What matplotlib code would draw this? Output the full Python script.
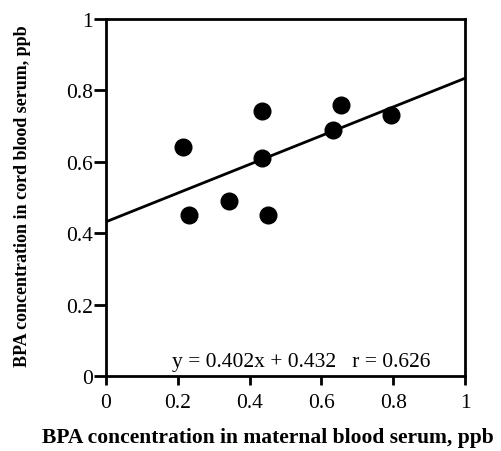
import numpy as np
import matplotlib
matplotlib.use("Agg")
import matplotlib.pyplot as plt

plt.rcParams['font.family'] = ['Liberation Serif', 'DejaVu Serif']

# maternal vs cord serum BPA, ppb
maternal = [0.215, 0.434, 0.655, 0.793, 0.633, 0.434, 0.231, 0.343, 0.452]
cord = [0.641, 0.741, 0.760, 0.731, 0.690, 0.611, 0.451, 0.489, 0.451]
slope = 0.402
intercept = 0.432
r_value = 0.626
ticks = [0, 0.2, 0.4, 0.6, 0.8, 1]
tick_labels = ['0', '0.2', '0.4', '0.6', '0.8', '1']

fig = plt.figure(figsize=(5.01, 4.52), dpi=100)
ax = fig.add_axes([106 / 501, 1 - 377 / 452, 359 / 501, 357 / 452])

xs = np.array([0, 1])
ax.plot(xs, slope * xs + intercept, color='black', lw=2)
ax.plot(maternal, cord, 'o', color='black', markersize=12, clip_on=False)

ax.set_xlim(0, 1)
ax.set_ylim(0, 1)
ax.set_xticks(ticks)
ax.set_xticklabels(tick_labels)
ax.set_yticks(ticks)
ax.set_yticklabels(tick_labels)
for s in ax.spines.values():
    s.set_linewidth(2)
ax.tick_params(axis='x', direction='out', length=6.5, width=2, labelsize=15.5, pad=6)
ax.tick_params(axis='y', direction='out', length=8.5, width=2, labelsize=15.5, pad=1)

ax.text(0.184, 0.015, 'y = %.3fx + %.3f   r = %.3f' % (slope, intercept, r_value),
        fontsize=15.5, transform=ax.transAxes, va='bottom')

fig.text(268 / 501, 1 - 438 / 452, 'BPA concentration in maternal blood serum, ppb',
         ha='center', va='center', fontsize=15.5, fontweight='bold')
fig.text(23 / 501, 1 - 196 / 452, 'BPA concentration in cord blood serum, ppb',
         ha='center', va='center', rotation=90, fontsize=13, fontweight='bold')

fig.savefig('out.png', dpi=100)
